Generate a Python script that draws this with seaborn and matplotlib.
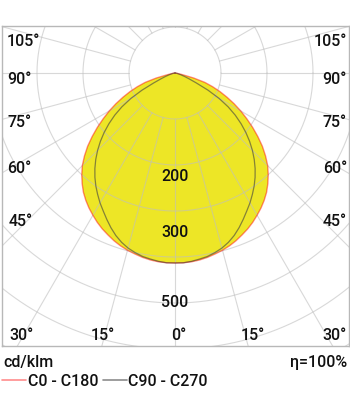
import numpy as np
import pandas as pd
import matplotlib
matplotlib.use("Agg")
import matplotlib.pyplot as plt
from matplotlib.lines import Line2D
import seaborn as sns

# ---------------- data (cd/klm), read at 2.5 deg steps ----------------
gamma_deg = [0, 2.5, 5, 7.5, 10, 12.5, 15, 17.5, 20, 22.5, 25, 27.5, 30, 32.5, 35, 37.5,
             40, 42.5, 45, 47.5, 50, 52.5, 55, 57.5, 60, 62.5, 65, 67.5, 70, 72.5, 75,
             77.5, 80, 82.5, 85, 87.5, 90]
c0_c180 = [413, 413, 412, 410, 407, 403, 399, 394, 388, 381, 374, 366, 357, 348, 338, 327,
           314, 300, 285, 267, 248, 227, 206, 185, 165, 145, 125, 106, 87, 68, 42,
           16, 6, 2, 1, 0, 0]
c90_c270 = [413, 413, 411, 408, 405, 400, 394, 386, 376, 364, 351, 338, 326, 313, 300, 286,
            271, 255, 238, 220, 201, 181, 160, 137, 111, 81, 51, 33, 22, 14, 9,
            6, 4, 2, 1, 0, 0]
series_names = ["C0 - C180", "C90 - C270"]

ring_values = [100, 200, 300, 400, 500, 600, 700, 800]
spoke_angles = [0, 15, 30, 45, 60, 75, 90, 105, 120, 135, 150, 165, 180]
ring_labels = ["200", "300", "500"]
ring_label_pos = [226, 346, 498]
side_labels = ["105°", "90°", "75°", "60°", "45°"]
bottom_labels = ["30°", "15°", "0°", "15°", "30°"]
unit_label = "cd/klm"
eff_label = "η=100%"

# ---------------- style ----------------
sns.set_style("white")
plt.rcParams["font.family"] = ["Roboto", "DejaVu Sans"]
FS = 11.5
FW = "medium"
TXT = "#111111"
YELLOW = "#ede626"
RED = (1.0, 0.0, 0.0, 0.45)
GREY = (0.25, 0.25, 0.25, 0.6)
GRID = (0.75, 0.75, 0.75, 0.6)

W, H = 350, 395
fig = plt.figure(figsize=(W / 100, H / 100), dpi=100)

def fx(px):
    return px / W

def fy(py):
    return 1 - py / H

# axes box in pixels
bx0, bx1, by0, by1 = 1.5, 349, 26, 346
ax = fig.add_axes([fx(bx0), fy(by1), (bx1 - bx0) / W, (by1 - by0) / H])
scale = 0.46  # px per cd/klm
cx, cy = 175, 73
ax.set_xlim(-(cx - bx0) / scale, (bx1 - cx) / scale)
ax.set_ylim(-(by1 - cy) / scale, (cy - by0) / scale)
ax.set_xticks([])
ax.set_yticks([])
for s in ax.spines.values():
    s.set_color("#b8b8b8")
    s.set_linewidth(1.0)

def curve_df(values):
    g = np.radians(np.array(gamma_deg, dtype=float))
    v = np.array(values, dtype=float)
    # left half (C180 / C270) from 90 deg down to 0, then right half 0 -> 90
    ang = np.concatenate([-g[::-1], g[1:]])
    val = np.concatenate([v[::-1], v[1:]])
    return pd.DataFrame({"x": val * np.sin(ang), "y": -val * np.cos(ang),
                         "k": np.arange(len(ang))})

df0 = curve_df(c0_c180)
df90 = curve_df(c90_c270)

# fill
ax.fill(df0["x"], df0["y"], color=YELLOW, lw=0, zorder=1)

# grid rings
t = np.linspace(0, 2 * np.pi, 721)
for r in ring_values:
    ax.plot(r * np.cos(t), r * np.sin(t), color=GRID, lw=0.8, zorder=2)
# spokes
r_in, r_out = ring_values[0], 900
for a in spoke_angles:
    for sgn in ([1] if a in (0, 180) else [-1, 1]):
        ar = np.radians(a) * sgn
        ax.plot([r_in * np.sin(ar), r_out * np.sin(ar)],
                [-r_in * np.cos(ar), -r_out * np.cos(ar)],
                color=GRID, lw=0.8, zorder=2)

# curves
sns.lineplot(data=df0, x="x", y="y", sort=False, estimator=None, color=RED,
             lw=1.0, ax=ax, zorder=4, legend=False)
sns.lineplot(data=df90, x="x", y="y", sort=False, estimator=None, color=GREY,
             lw=0.9, ax=ax, zorder=5, legend=False)
ax.set_xlabel("")
ax.set_ylabel("")

# ring labels
for lab, pos in zip(ring_labels, ring_label_pos):
    ax.text(0, -pos, lab, ha="center", va="center", fontsize=FS, fontweight=FW,
            color=TXT, zorder=6)

# angle labels
side_y = [42, 79.5, 122.5, 168, 221]
side_xl = [7, 7, 7, 7, 9]
for lab, py, pxl in zip(side_labels, side_y, side_xl):
    fig.text(fx(pxl), fy(py), lab, ha="left", va="center", fontsize=FS,
             fontweight=FW, color=TXT)
    fig.text(fx(347), fy(py), lab, ha="right", va="center", fontsize=FS,
             fontweight=FW, color=TXT)
bot_x = [9, 103, 179, 253, 347]
bot_ha = ["left", "center", "center", "center", "right"]
for lab, px, ha in zip(bottom_labels, bot_x, bot_ha):
    fig.text(fx(px), fy(335), lab, ha=ha, va="center", fontsize=FS,
             fontweight=FW, color=TXT)

fig.text(fx(3), fy(362), unit_label, ha="left", va="center", fontsize=FS,
         fontweight=FW, color=TXT)
fig.text(fx(347), fy(362), eff_label, ha="right", va="center", fontsize=FS,
         fontweight=FW, color=TXT)

handles = [Line2D([], [], color=RED, lw=1.2), Line2D([], [], color=GREY, lw=1.2)]
fig.legend(handles, series_names, loc="center left", bbox_to_anchor=(fx(2), fy(381)),
           ncol=2, frameon=False, handlelength=1.5, handletextpad=0.1,
           columnspacing=0.3, borderpad=0, borderaxespad=0,
           prop={"size": FS, "weight": FW}, labelcolor=TXT)

fig.savefig("out.png", dpi=100)
